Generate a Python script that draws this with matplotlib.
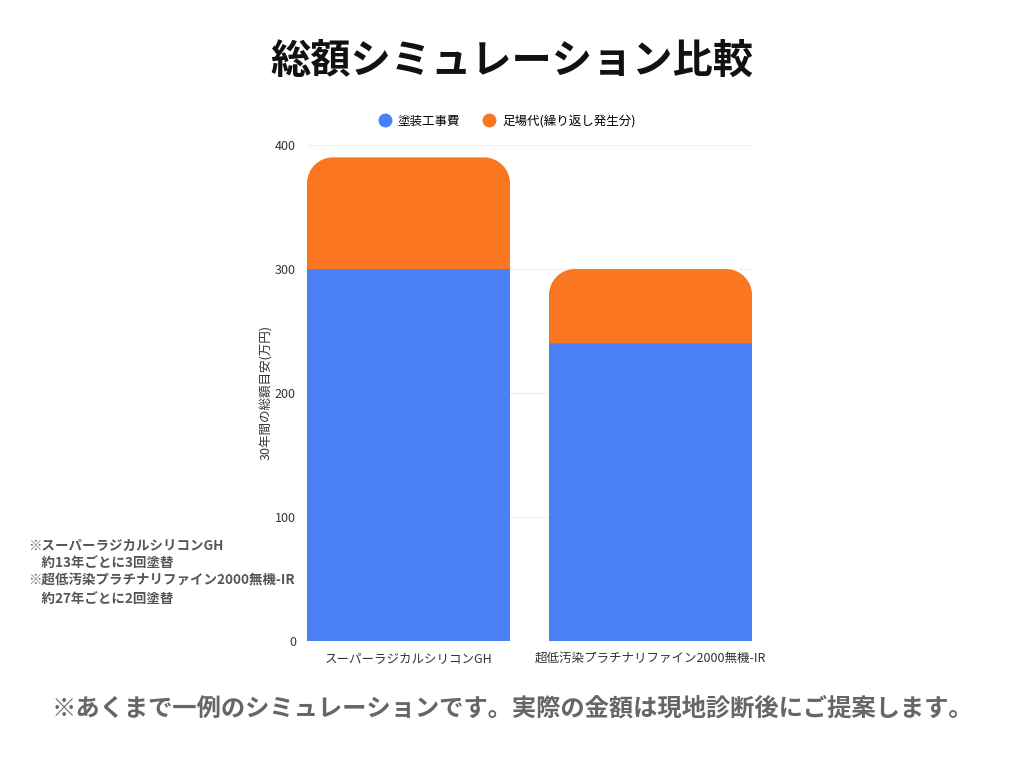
import matplotlib.pyplot as plt
from matplotlib.path import Path
from matplotlib.patches import PathPatch

plt.rcParams['font.family'] = ['Noto Sans CJK JP', 'DejaVu Sans']

# data
products = ['スーパーラジカルシリコンGH', '超低汚染プラチナリファイン2000無機-IR']
paint_cost = [300, 240]
scaffold_cost = [90, 60]
series_names = ['塗装工事費', '足場代(繰り返し発生分)']
y_ticks = [0, 100, 200, 300, 400]
notes = ['※スーパーラジカルシリコンGH', '\u3000約13年ごとに3回塗替',
         '※超低汚染プラチナリファイン2000無機-IR', '\u3000約27年ごとに2回塗替']

BLUE = '#4a7ff6'
ORANGE = '#fa7621'


def round_top(ax, rect, radius_px):
    '''
    Replaces a bar rectangle by a path with rounded top corners
    '''
    x0, y0 = rect.get_x(), rect.get_y()
    w, h = rect.get_width(), rect.get_height()
    p0 = ax.transData.transform((0, 0))
    p1 = ax.transData.transform((1, 1))
    rx = radius_px / abs(p1[0] - p0[0])
    ry = radius_px / abs(p1[1] - p0[1])
    ry = min(ry, h)
    k = 0.5523
    x1, y1 = x0 + w, y0 + h
    verts = [(x0, y0), (x1, y0), (x1, y1 - ry),
             (x1, y1 - ry + k * ry), (x1 - rx + k * rx, y1), (x1 - rx, y1),
             (x0 + rx, y1),
             (x0 + rx - k * rx, y1), (x0, y1 - ry + k * ry), (x0, y1 - ry),
             (x0, y0)]
    codes = [Path.MOVETO, Path.LINETO, Path.LINETO,
             Path.CURVE4, Path.CURVE4, Path.CURVE4,
             Path.LINETO,
             Path.CURVE4, Path.CURVE4, Path.CURVE4,
             Path.CLOSEPOLY]
    patch = PathPatch(Path(verts, codes), facecolor=rect.get_facecolor(),
                      edgecolor='none', zorder=rect.get_zorder())
    rect.set_visible(False)
    ax.add_patch(patch)


fig = plt.figure(figsize=(10.24, 7.68), dpi=100)
ax = fig.add_axes([0.2998, 0.1654, 0.4346, 0.6458])

width = 0.839
pos = list(range(len(products)))
ax.bar(pos, paint_cost, width, color=BLUE, label=series_names[0], zorder=2)
top_bars = ax.bar(pos, scaffold_cost, width, bottom=paint_cost,
                  color=ORANGE, label=series_names[1], zorder=2)

ax.set_xlim(-width / 2, len(products) - 1 + width / 2)
ax.set_ylim(0, 400)
ax.set_yticks(y_ticks)
ax.set_xticks(pos)
ax.set_xticklabels(products)
ax.tick_params(length=0, labelsize=9, colors='#333333', pad=8)
ax.grid(axis='y', color='#f0f0f0', linewidth=1, zorder=0)
for s in ax.spines.values():
    s.set_visible(False)
ax.set_ylabel('30年間の総額目安(万円)', fontsize=9, color='#333333',
              labelpad=1)

for rect in top_bars:
    round_top(ax, rect, 26)

handles = [plt.Line2D([], [], marker='o', linestyle='none', markersize=9,
                      color=c) for c in (BLUE, ORANGE)]
fig.legend(handles, series_names, loc='center', bbox_to_anchor=(0.492, 0.842),
           ncol=2, frameon=False, fontsize=9, handletextpad=0.05,
           columnspacing=1.3)

fig.text(0.5, 0.92, '総額シミュレーション比較', ha='center', va='center',
         fontsize=29, fontweight='bold', color='#111111')
fig.text(0.5, 0.078,
         '※あくまで一例のシミュレーションです。実際の金額は現地診断後にご提案します。',
         ha='center', va='center', fontsize=17.5, fontweight='bold',
         color='#666666')

for i, line in enumerate(notes):
    fig.text(0.027, 1 - (546 + i * 17.5) / 768, line, ha='left',
             va='center', fontsize=9.7, fontweight='bold', color='#555555')

fig.savefig('out.png', dpi=100)
